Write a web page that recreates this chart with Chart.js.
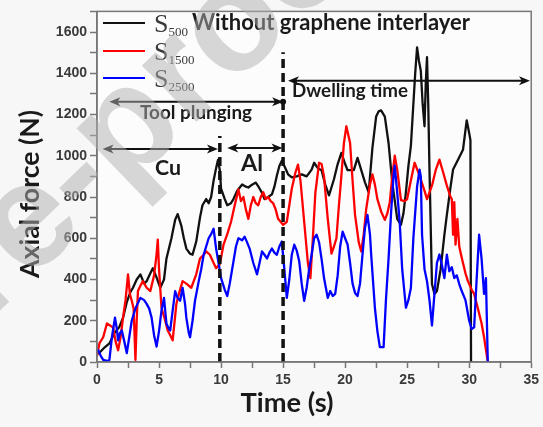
<!DOCTYPE html>
<html>
<head>
<meta charset="utf-8">
<script src="https://cdn.jsdelivr.net/npm/chart.js@4.4.1/dist/chart.umd.min.js"></script>
<style>
  html, body { margin: 0; padding: 0; background: #f7f7f7; }
  #wrap { width: 543px; height: 427px; }
</style>
</head>
<body>
<div id="wrap"><canvas id="c" width="543" height="427"></canvas></div>
<script>
// Axial force vs. time for three rotation speeds (no graphene interlayer)
const timeS500 = [0,0.2,0.6,1.0,1.4,1.8,2.1,2.4,2.7,2.9,3.2,3.5,3.8,4.0,4.3,4.5,4.8,5.1,5.4,5.6,6.0,6.3,6.5,6.8,7.0,7.2,7.5,7.7,8.0,8.3,8.5,8.8,9.0,9.2,9.4,9.6,9.75,9.9,10.0,10.3,10.5,10.8,11.0,11.3,11.7,12.0,12.2,12.5,12.8,13.0,13.3,13.5,13.8,14.1,14.3,14.5,14.7,14.9,15.1,15.4,15.7,16.1,16.5,16.9,17.3,17.5,17.8,18.1,18.4,18.7,19.1,19.4,19.7,20.0,20.2,20.7,21.0,21.3,21.6,21.9,22.2,22.5,22.7,22.9,23.2,23.5,23.8,24.2,24.5,24.7,24.9,25.1,25.3,25.5,25.65,25.8,25.95,26.1,26.25,26.4,26.5,26.6,26.7,26.8,27.0,27.2,27.4,27.7,28.0,28.2,28.5,28.7,29.1,29.5,29.8,30.0,30.1,30.15];
const forceS500 = [40,45,70,90,140,170,215,290,340,360,400,425,380,392,430,455,410,360,400,502,600,690,717,660,600,550,525,520,584,700,760,790,770,800,880,940,980,930,840,790,760,770,790,830,861,850,846,860,870,852,820,790,800,813,850,904,950,976,950,910,895,900,910,900,933,966,940,930,860,808,886,960,1014,960,930,930,990,930,871,823,1038,1190,1215,1220,1190,1062,871,694,665,720,823,950,1048,1250,1400,1526,1460,1412,1250,1143,1350,1478,1250,933,378,330,344,450,617,713,850,933,981,1029,1172,1110,1076,0];

const timeS1500 = [0,0.2,0.5,0.8,1.1,1.3,1.5,1.7,1.9,2.1,2.3,2.5,2.65,2.8,2.95,3.1,3.2,3.3,3.5,3.7,4.0,4.3,4.6,4.8,4.9,5.0,5.2,5.5,5.7,5.9,6.1,6.4,6.6,6.9,7.2,7.6,8.0,8.3,8.6,8.8,9.1,9.4,9.6,9.9,10.2,10.5,10.8,11.1,11.4,11.6,11.8,12.0,12.2,12.4,12.6,12.8,13.0,13.2,13.4,13.6,13.8,14.0,14.2,14.4,14.6,14.8,15.0,15.3,15.5,15.7,16.0,16.2,16.4,16.7,17.0,17.2,17.4,17.6,17.9,18.1,18.3,18.6,18.9,19.1,19.3,19.5,19.7,19.9,20.1,20.4,20.6,20.8,21.1,21.3,21.5,21.7,22.0,22.2,22.4,22.6,22.9,23.2,23.4,23.6,23.8,24.0,24.2,24.5,24.8,25.0,25.3,25.6,25.9,26.1,26.4,26.6,27.0,27.3,27.6,27.9,28.2,28.5,28.6,28.7,28.8,28.9,29.05,29.2,29.4,29.7,29.9,30.2,30.4,30.7,31.0,31.2,31.5];
const forceS1500 = [30,91,120,187,175,167,100,57,120,215,300,425,330,297,260,10,200,344,370,392,360,344,420,520,593,450,263,200,153,130,105,282,330,392,380,360,425,502,520,536,520,480,455,474,569,620,679,760,837,780,800,740,694,760,800,770,760,800,823,790,800,780,770,740,694,680,665,680,760,840,920,957,880,680,480,407,600,820,966,960,900,694,526,560,600,760,904,1060,1143,1062,880,713,580,536,620,742,860,910,860,790,730,689,720,775,900,1000,933,785,780,790,880,966,920,886,830,790,855,930,981,920,855,800,790,617,775,569,694,560,505,430,392,350,330,260,187,120,0];

const timeS2500 = [0,0.1,0.3,0.5,0.8,1.0,1.2,1.45,1.6,1.7,1.85,2.0,2.2,2.4,2.6,2.8,3.1,3.5,3.8,4.0,4.2,4.4,4.6,4.8,5.0,5.2,5.4,5.6,5.8,5.9,6.1,6.3,6.5,6.7,6.9,7.1,7.2,7.4,7.5,7.7,7.9,8.2,8.4,8.6,8.8,9.0,9.2,9.4,9.6,9.8,10.0,10.3,10.5,10.7,11.0,11.2,11.4,11.7,11.9,12.1,12.3,12.6,12.9,13.1,13.3,13.5,13.7,13.9,14.1,14.3,14.5,14.7,14.9,15.1,15.3,15.5,15.7,15.9,16.1,16.3,16.5,16.7,16.9,17.1,17.3,17.5,17.7,17.9,18.1,18.3,18.6,18.8,19.0,19.2,19.4,19.6,19.8,20.0,20.2,20.4,20.6,20.8,21.0,21.2,21.4,21.6,21.8,22.0,22.1,22.4,22.6,22.8,23.1,23.3,23.5,23.7,23.9,24.0,24.2,24.4,24.6,24.9,25.1,25.3,25.5,25.8,26.0,26.1,26.2,26.4,26.6,26.8,27.0,27.2,27.4,27.6,27.8,28.0,28.2,28.4,28.6,28.8,29.0,29.2,29.4,29.7,30.0,30.2,30.4,30.6,30.8,31.0,31.2,31.35,31.5];
const forceS2500 = [50,57,30,10,5,10,120,215,160,105,140,153,100,43,120,200,260,311,300,282,260,215,130,75,150,250,311,185,160,153,250,344,310,297,360,280,215,140,120,200,297,392,450,521,560,600,620,646,550,480,407,350,320,380,488,560,600,590,608,580,550,480,425,480,536,520,502,530,550,530,520,560,584,450,311,400,520,569,540,488,380,297,360,450,520,600,617,580,500,407,311,344,320,330,420,560,632,600,569,480,380,335,320,380,520,650,713,620,521,263,150,72,72,311,500,720,900,952,820,679,450,263,300,359,600,850,933,900,617,450,392,300,177,330,480,521,470,407,521,440,460,407,420,378,344,300,200,160,168,400,617,500,330,407,0];

const seriesNames = ['500', '1500', '2500'];
const seriesColors = ['#111111', '#ff0000', '#0000ff'];
const xTicks = [0, 5, 10, 15, 20, 25, 30, 35];
const yTicks = [0, 200, 400, 600, 800, 1000, 1200, 1400, 1600];

const pairs = (ts, vs) => ts.map((t, i) => ({ x: t, y: vs[i] }));

const SANS = 'Lato, "Open Sans", "Liberation Sans", sans-serif';
const SERIF = '"Liberation Serif", "DejaVu Serif", serif';

function fitFont(ctx, text, weight, family, width) {
  ctx.font = weight + ' 100px ' + family;
  const w = ctx.measureText(text).width;
  const size = 100 * width / w;
  ctx.font = weight + ' ' + size.toFixed(2) + 'px ' + family;
  return size;
}

function arrow(ctx, x1, x2, y, leftHead, rightHead) {
  const hl = 11, hw = 4.5;
  ctx.save();
  ctx.strokeStyle = '#111';
  ctx.fillStyle = '#111';
  ctx.lineWidth = 2;
  ctx.beginPath();
  ctx.moveTo(x1 + (leftHead ? 4 : 0), y);
  ctx.lineTo(x2 - (rightHead ? 4 : 0), y);
  ctx.stroke();
  if (leftHead) {
    ctx.beginPath();
    ctx.moveTo(x1, y); ctx.lineTo(x1 + hl, y - hw); ctx.lineTo(x1 + hl - 3, y); ctx.lineTo(x1 + hl, y + hw);
    ctx.closePath(); ctx.fill();
  }
  if (rightHead) {
    ctx.beginPath();
    ctx.moveTo(x2, y); ctx.lineTo(x2 - hl, y - hw); ctx.lineTo(x2 - hl + 3, y); ctx.lineTo(x2 - hl, y + hw);
    ctx.closePath(); ctx.fill();
  }
  ctx.restore();
}

const decor = {
  id: 'decor',
  beforeDraw(chart) {
    const { ctx, chartArea: a } = chart;
    ctx.save();
    ctx.fillStyle = '#f7f7f7';
    ctx.fillRect(0, 0, chart.width, chart.height);
    ctx.fillStyle = '#fcfcfc';
    ctx.fillRect(a.left, a.top, a.right - a.left, a.bottom - a.top);
    ctx.restore();
  },
  afterDatasetsDraw(chart) {
    const { ctx, chartArea: a, scales: { x, y } } = chart;
    ctx.save();

    // phase boundaries
    ctx.strokeStyle = '#111';
    ctx.lineWidth = 3.5;
    ctx.setLineDash([9, 5]);
    [[9.9, 1096], [15, 1502]].forEach(([t, top]) => {
      ctx.beginPath();
      ctx.moveTo(x.getPixelForValue(t), y.getPixelForValue(0));
      ctx.lineTo(x.getPixelForValue(t), y.getPixelForValue(top));
      ctx.stroke();
    });
    ctx.setLineDash([]);

    // phase arrows
    arrow(ctx, x.getPixelForValue(1.0), x.getPixelForValue(15.0), y.getPixelForValue(1262), true, true);
    arrow(ctx, x.getPixelForValue(15.4), x.getPixelForValue(34.9), y.getPixelForValue(1364), true, true);
    arrow(ctx, x.getPixelForValue(0.45), x.getPixelForValue(9.75), y.getPixelForValue(1033), true, true);
    arrow(ctx, x.getPixelForValue(10.5), x.getPixelForValue(14.95), y.getPixelForValue(1038), true, true);
    ctx.fillStyle = '#111';
    ctx.beginPath();
    ctx.arc(x.getPixelForValue(15.0), y.getPixelForValue(1262), 3, 0, Math.PI * 2);
    ctx.fill();

    // phase labels
    ctx.fillStyle = '#1a1a1a';
    ctx.textBaseline = 'middle';
    ctx.textAlign = 'left';
    fitFont(ctx, 'Tool plunging', 'bold', SANS, 112);
    ctx.fillText('Tool plunging', 140, 113);
    fitFont(ctx, 'Dwelling time', 'bold', SANS, 116);
    ctx.fillText('Dwelling time', 292, 91);
    fitFont(ctx, 'Cu', 'bold', SANS, 26);
    ctx.fillText('Cu', 155, 168);
    fitFont(ctx, 'Al', 'bold', SANS, 22);
    ctx.fillText('Al', 241, 163);

    // plot frame
    ctx.strokeStyle = '#777';
    ctx.lineWidth = 1.5;
    ctx.strokeRect(a.left, a.top, a.right - a.left, a.bottom - a.top);

    // legend
    const rows = [23, 51, 78];
    seriesNames.forEach((n, i) => {
      ctx.strokeStyle = seriesColors[i];
      ctx.lineWidth = 2.2;
      ctx.beginPath();
      ctx.moveTo(103, rows[i]);
      ctx.lineTo(145, rows[i]);
      ctx.stroke();
      ctx.fillStyle = '#3a3a3a';
      ctx.textBaseline = 'alphabetic';
      ctx.font = '26px ' + SERIF;
      ctx.fillText('S', 154, rows[i] + 9);
      const sw = ctx.measureText('S').width;
      ctx.font = '13px ' + SERIF;
      ctx.fillText(n, 154 + sw, rows[i] + 13);
    });
    ctx.fillStyle = '#1a1a1a';
    fitFont(ctx, 'Without graphene interlayer', 'bold', SANS, 278);
    ctx.fillText('Without graphene interlayer', 192, 30);

    // axis titles
    ctx.textAlign = 'center';
    ctx.textBaseline = 'middle';
    fitFont(ctx, 'Time (s)', 'bold', SANS, 93);
    ctx.fillText('Time (s)', 287, 403);
    ctx.translate(30, 194);
    ctx.rotate(-Math.PI / 2);
    fitFont(ctx, 'Axial force (N)', 'bold', SANS, 168);
    ctx.fillText('Axial force (N)', 0, 0);
    ctx.restore();
  },
  afterDraw(chart) {
    // faint diagonal overlay text
    const ctx = chart.ctx;
    ctx.save();
    const text = 'Journal Pre-proof';
    const fam = '"Liberation Sans", Arial, sans-serif';
    ctx.font = 'bold 100px ' + fam;
    const d100 = ctx.measureText('e-pr').width - ctx.measureText('e').width / 2 + ctx.measureText('o').width / 2;
    const ex = 30, ey = 225, ox = 235, oy = 28;
    const size = 100 * Math.hypot(ox - ex, oy - ey) / d100;
    ctx.font = 'bold ' + size + 'px ' + fam;
    ctx.translate(ex, ey);
    ctx.rotate(Math.atan2(oy - ey, ox - ex));
    const off = ctx.measureText('Journal Pr').width + ctx.measureText('e').width / 2;
    ctx.textBaseline = 'middle';
    ctx.textAlign = 'left';
    ctx.fillStyle = 'rgba(175,175,175,0.5)';
    ctx.fillText(text, -off, 0);
    ctx.restore();
  }
};

new Chart(document.getElementById('c'), {
  type: 'line',
  data: {
    datasets: [
      { label: 'S2500', data: pairs(timeS2500, forceS2500), borderColor: seriesColors[2], order: 0 },
      { label: 'S1500', data: pairs(timeS1500, forceS1500), borderColor: seriesColors[1], order: 1 },
      { label: 'S500', data: pairs(timeS500, forceS500), borderColor: seriesColors[0], order: 2 }
    ]
  },
  options: {
    responsive: false,
    animation: false,
    devicePixelRatio: 1,
    layout: { padding: { left: 0, right: 11, top: 7, bottom: 0 } },
    datasets: {
      line: { borderWidth: 2.3, pointRadius: 0, fill: false, tension: 0, borderJoinStyle: 'round' }
    },
    plugins: { legend: { display: false }, tooltip: { enabled: false } },
    scales: {
      x: {
        type: 'linear', min: 0, max: 35,
        afterFit(s) { s.height = 65; },
        border: { display: true, color: '#777', width: 1.5 },
        grid: { drawOnChartArea: false, drawTicks: true, tickLength: 6, tickColor: '#777', tickWidth: 1.5 },
        ticks: {
          stepSize: 2.5, padding: 4, color: '#3a3a3a',
          font: { family: '"Liberation Sans", Arial, sans-serif', weight: 'bold', size: 14 },
          callback: v => xTicks.includes(v) ? String(v) : ''
        }
      },
      y: {
        type: 'linear', min: 0, max: 1700,
        afterFit(s) { s.width = 97; },
        border: { display: true, color: '#777', width: 1.5 },
        grid: { drawOnChartArea: false, drawTicks: true, tickLength: 7, tickColor: '#777', tickWidth: 1.5 },
        ticks: {
          stepSize: 100, padding: 3, color: '#3a3a3a',
          font: { family: '"Liberation Sans", Arial, sans-serif', weight: 'bold', size: 14 },
          callback: v => yTicks.includes(v) ? String(v) : ''
        }
      }
    }
  },
  plugins: [decor]
});
</script>
</body>
</html>
